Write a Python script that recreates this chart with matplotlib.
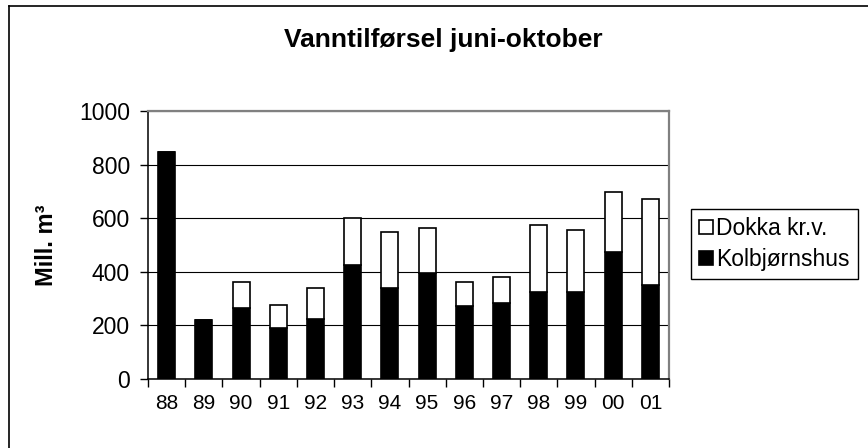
import matplotlib.pyplot as plt
import numpy as np
from matplotlib.lines import Line2D

# ---- data (Mill. m3)
years = ['88', '89', '90', '91', '92', '93', '94', '95', '96', '97', '98', '99', '00', '01']
kolbjornshus = [846, 221, 266, 189, 223, 425, 341, 394, 272, 284, 325, 326, 475, 351]
dokka = [0, 0, 96, 87, 118, 175, 206, 171, 90, 98, 250, 229, 224, 320]

plt.rcParams['font.family'] = ['Liberation Sans', 'DejaVu Sans']

W, H = 868, 448
fig = plt.figure(figsize=(W / 100, H / 100), dpi=100)

# plot area in pixel terms
left, right, top, bottom = 148, 669, 111, 379
ax = fig.add_axes([left / W, 1 - bottom / H, (right - left) / W, (bottom - top) / H])

x = np.arange(len(years))
ax.bar(x, kolbjornshus, width=0.455, color='black', edgecolor='black',
       linewidth=1.2, label='Kolbjørnshus', zorder=3)
ax.bar(x, dokka, width=0.455, bottom=kolbjornshus, color='white',
       edgecolor='black', linewidth=1.2, label='Dokka kr.v.', zorder=3)

ax.set_xlim(-0.5, len(years) - 0.5)
ax.set_ylim(0, 1000)
ax.set_yticks(np.arange(0, 1001, 200))
ax.yaxis.grid(True, color='black', linewidth=0.8, zorder=0)

# ticks on category boundaries, labels in the middle
ax.set_xticks(np.arange(-0.5, len(years), 1))
ax.set_xticklabels([])
ax.set_xticks(x, minor=True)
ax.set_xticklabels(years, minor=True, fontsize=15)
ax.tick_params(axis='x', which='major', direction='out', length=6, width=1)
ax.tick_params(axis='x', which='minor', length=0, pad=11)
ax.tick_params(axis='y', direction='out', length=6, width=1, labelsize=16.5, pad=7)

for s in ['left', 'bottom']:
    ax.spines[s].set_color('black')
    ax.spines[s].set_linewidth(1.1)
for s in ['top', 'right']:
    ax.spines[s].set_color('#808080')
    ax.spines[s].set_linewidth(1.6)

ax.set_ylabel('Mill. m³', fontsize=17, fontweight='bold')
ax.yaxis.set_label_coords(-0.173, 0.5)

fig.text(443 / W, 1 - 47 / H, 'Vanntilførsel juni-oktober', ha='center',
         va='baseline', fontsize=19, fontweight='bold')

# legend
handles, labels = ax.get_legend_handles_labels()
leg = fig.legend(handles[::-1], labels[::-1], loc='upper left',
                 bbox_to_anchor=(690.5 / W, 1 - 209 / H), fontsize=16.5,
                 frameon=True, fancybox=False, shadow=False, framealpha=1,
                 edgecolor='black', borderaxespad=0, borderpad=0.35,
                 handlelength=0.62, handleheight=0.62, handletextpad=0.15,
                 labelspacing=0.35)
leg.get_frame().set_linewidth(1.0)

# chart area border (right and bottom fall outside the image)
fig.add_artist(Line2D([8.5 / W, 8.5 / W], [0, 1 - 6.5 / H], color='black',
                      linewidth=1.2, transform=fig.transFigure))
fig.add_artist(Line2D([8.5 / W, 1], [1 - 6.5 / H, 1 - 6.5 / H], color='black',
                      linewidth=1.2, transform=fig.transFigure))

fig.savefig('out.png', dpi=100)
